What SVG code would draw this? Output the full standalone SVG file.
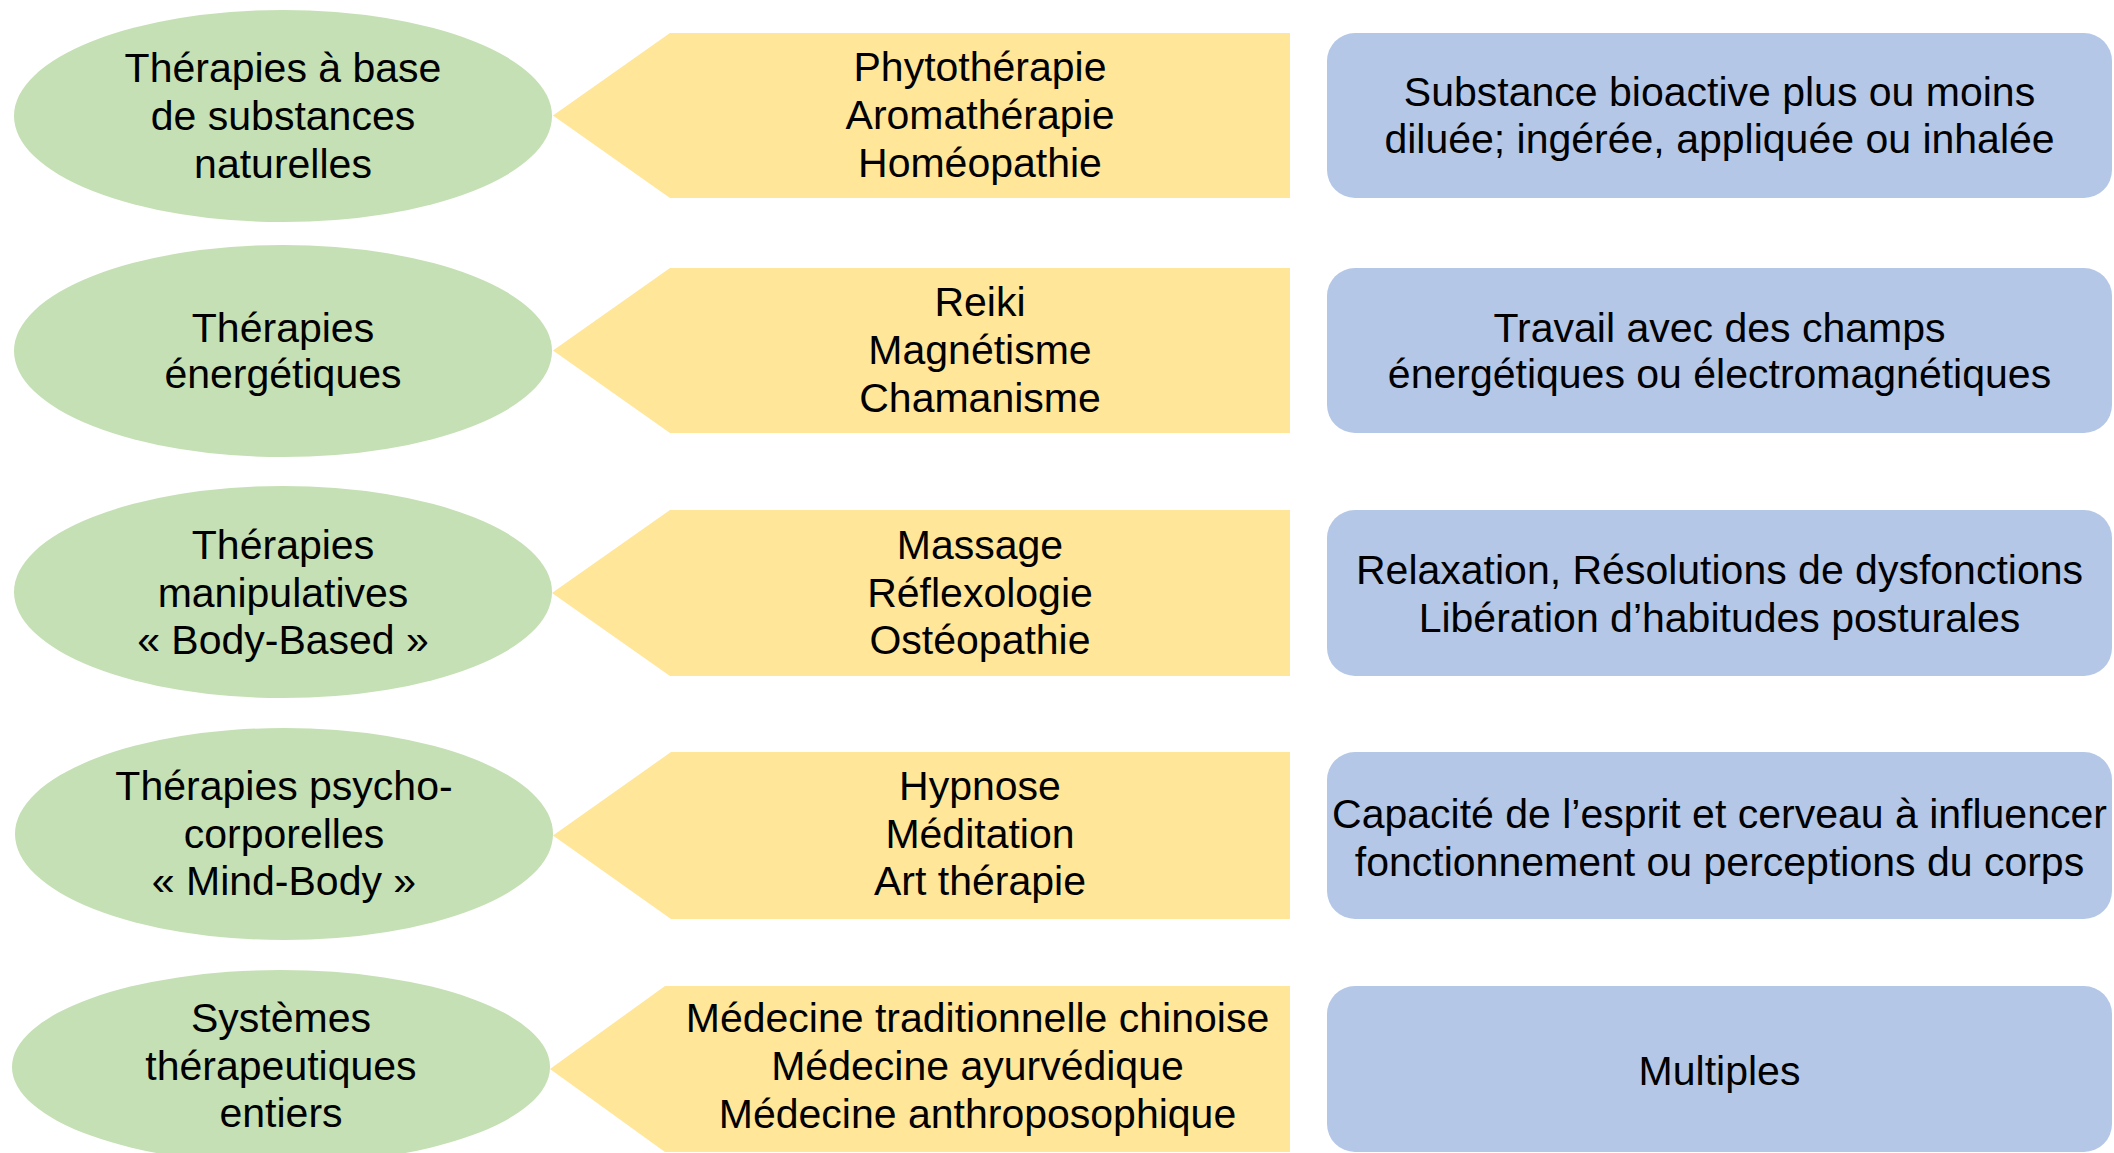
<svg xmlns="http://www.w3.org/2000/svg" width="2114" height="1153" viewBox="0 0 2114 1153">
<style>
.g{fill:#C5E0B4}
.y{fill:#FFE699}
.b{fill:#B4C7E7}
text{font-family:"Liberation Sans",Arial,sans-serif;font-size:41px;fill:#000;text-anchor:middle}
</style>
<rect width="2114" height="1153" fill="#FFFFFF"/>
<g id="connectors"></g>

<!-- Row 1 -->
<g id="cat1">
<ellipse class="g" cx="283" cy="116" rx="269" ry="106"/>
<text x="283" y="82">Thérapies à base</text>
<text x="283" y="130">de substances</text>
<text x="283" y="178">naturelles</text>
</g>
<g id="ex1">
<polygon class="y" points="553,115.5 670,33 1290,33 1290,198 670,198"/>
<text x="980" y="81">Phytothérapie</text>
<text x="980" y="129">Aromathérapie</text>
<text x="980" y="177">Homéopathie</text>
</g>
<g id="desc1">
<rect class="b" x="1327" y="33" width="785" height="165" rx="28" ry="28"/>
<text x="1719.5" y="106">Substance bioactive plus ou moins</text>
<text x="1719.5" y="153">diluée; ingérée, appliquée ou inhalée</text>
</g>

<!-- Row 2 -->
<g id="cat2">
<ellipse class="g" cx="283" cy="351" rx="269" ry="106"/>
<text x="283" y="342">Thérapies</text>
<text x="283" y="388">énergétiques</text>
</g>
<g id="ex2">
<polygon class="y" points="553,350.5 670,268 1290,268 1290,433 670,433"/>
<text x="980" y="316">Reiki</text>
<text x="980" y="364">Magnétisme</text>
<text x="980" y="412">Chamanisme</text>
</g>
<g id="desc2">
<rect class="b" x="1327" y="268" width="785" height="165" rx="28" ry="28"/>
<text x="1719.5" y="342">Travail avec des champs</text>
<text x="1719.5" y="388">énergétiques ou électromagnétiques</text>
</g>

<!-- Row 3 -->
<g id="cat3">
<ellipse class="g" cx="283" cy="592" rx="269" ry="106"/>
<text x="283" y="559">Thérapies</text>
<text x="283" y="607">manipulatives</text>
<text x="283" y="654">« Body-Based »</text>
</g>
<g id="ex3">
<polygon class="y" points="552,593 670,510 1290,510 1290,676 670,676"/>
<text x="980" y="559">Massage</text>
<text x="980" y="607">Réflexologie</text>
<text x="980" y="654">Ostéopathie</text>
</g>
<g id="desc3">
<rect class="b" x="1327" y="510" width="785" height="166" rx="28" ry="28"/>
<text x="1719.5" y="584">Relaxation, Résolutions de dysfonctions</text>
<text x="1719.5" y="632">Libération d’habitudes posturales</text>
</g>

<!-- Row 4 -->
<g id="cat4">
<ellipse class="g" cx="284" cy="834" rx="269" ry="106"/>
<text x="284" y="800">Thérapies psycho-</text>
<text x="284" y="848">corporelles</text>
<text x="284" y="895">« Mind-Body »</text>
</g>
<g id="ex4">
<polygon class="y" points="553,835.5 671,752 1290,752 1290,919 671,919"/>
<text x="980" y="800">Hypnose</text>
<text x="980" y="848">Méditation</text>
<text x="980" y="895">Art thérapie</text>
</g>
<g id="desc4">
<rect class="b" x="1327" y="752" width="785" height="167" rx="28" ry="28"/>
<text x="1719.5" y="828">Capacité de l’esprit et cerveau à influencer</text>
<text x="1719.5" y="876">fonctionnement ou perceptions du corps</text>
</g>

<!-- Row 5 -->
<g id="cat5">
<ellipse class="g" cx="281" cy="1067" rx="269" ry="97"/>
<text x="281" y="1032">Systèmes</text>
<text x="281" y="1080">thérapeutiques</text>
<text x="281" y="1127">entiers</text>
</g>
<g id="ex5">
<polygon class="y" points="550,1069 665,986 1290,986 1290,1152 665,1152"/>
<text x="977.5" y="1032">Médecine traditionnelle chinoise</text>
<text x="977.5" y="1080">Médecine ayurvédique</text>
<text x="977.5" y="1128">Médecine anthroposophique</text>
</g>
<g id="desc5">
<rect class="b" x="1327" y="986" width="785" height="166" rx="28" ry="28"/>
<text x="1719.5" y="1085">Multiples</text>
</g>
</svg>
